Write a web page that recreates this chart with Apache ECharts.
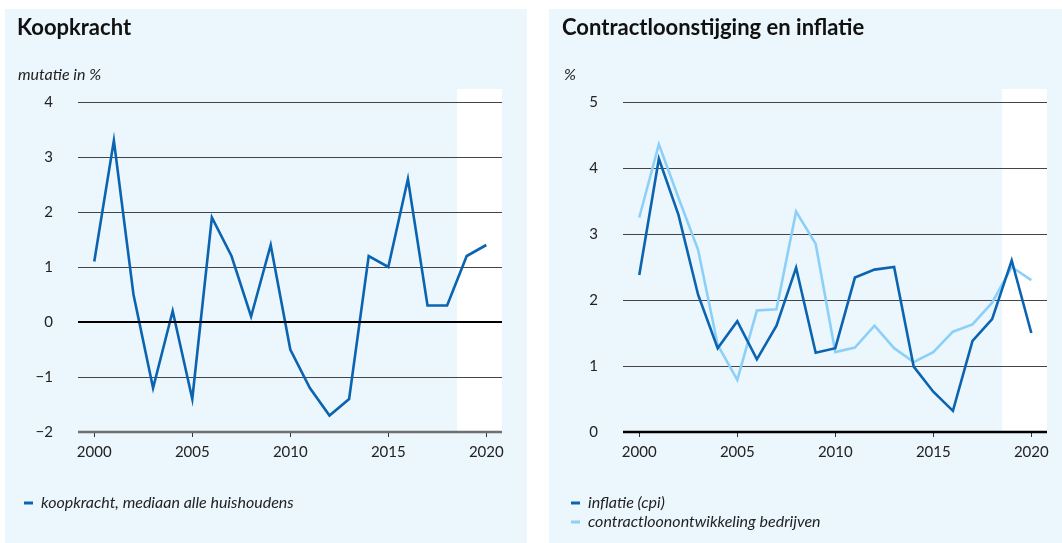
<!DOCTYPE html>
<html>
<head>
<meta charset="utf-8">
<script src="https://cdn.jsdelivr.net/npm/echarts@6/dist/echarts.min.js"></script>
<style>
  html, body { margin: 0; padding: 0; background: #fff; }
  #chart { width: 1062px; height: 543px; }
</style>
</head>
<body>
<div id="chart"></div>
<script>
// jaren
const years = [2000, 2001, 2002, 2003, 2004, 2005, 2006, 2007, 2008, 2009, 2010,
  2011, 2012, 2013, 2014, 2015, 2016, 2017, 2018, 2019, 2020];
const yearTicks = [2000, 2005, 2010, 2015, 2020];

// koopkracht, mediaan alle huishoudens (mutatie in %)
const koopkracht = [1.1, 3.3, 0.5, -1.2, 0.2, -1.4, 1.9, 1.2, 0.1, 1.4, -0.5,
  -1.2, -1.7, -1.4, 1.2, 1.0, 2.6, 0.3, 0.3, 1.2, 1.4];

// inflatie (cpi) en contractloonontwikkeling bedrijven (%)
const inflatie = [2.38, 4.14, 3.29, 2.08, 1.27, 1.68, 1.1, 1.61, 2.49, 1.2, 1.27,
  2.34, 2.46, 2.5, 0.99, 0.61, 0.32, 1.38, 1.71, 2.6, 1.5];
const contractloon = [3.25, 4.36, 3.55, 2.76, 1.32, 0.79, 1.84, 1.86, 3.34, 2.85, 1.21,
  1.28, 1.61, 1.27, 1.06, 1.21, 1.52, 1.63, 1.96, 2.5, 2.3];

const ramingVanaf = 2018.5; // wit vlak: raming

const FONT = 'Lato, "Open Sans", sans-serif';
const DARK = '#0b64b0';
const LIGHT = '#8dd0f7';
const PANEL = '#ebf6fd';

const pairs = (vals) => years.map((y, i) => [y, vals[i]]);

const myChart = echarts.init(document.getElementById('chart'));

function xAxisFor(gridIndex) {
  return {
    type: 'value',
    gridIndex: gridIndex,
    min: 1999.17,
    max: 2020.8,
    axisLine: { show: false, onZero: false },
    axisTick: {
      show: true,
      customValues: yearTicks,
      length: 5,
      lineStyle: { color: '#333', width: 1 }
    },
    axisLabel: {
      customValues: yearTicks,
      margin: 13,
      color: '#222',
      fontSize: 15,
      fontFamily: FONT,
      formatter: v => String(v)
    },
    splitLine: { show: false }
  };
}

function yAxisFor(gridIndex, min, max) {
  return {
    type: 'value',
    gridIndex: gridIndex,
    min: min,
    max: max,
    interval: 1,
    axisLine: { show: false },
    axisTick: { show: false },
    axisLabel: {
      margin: 25,
      color: '#222',
      fontSize: 15,
      fontFamily: FONT,
      formatter: v => (v < 0 ? '\u2212' + Math.abs(v) : String(v))
    },
    splitLine: { show: true, lineStyle: { color: '#444', width: 1 } }
  };
}

function lineSeries(name, xi, yi, data, color, z) {
  return {
    name: name,
    type: 'line',
    xAxisIndex: xi,
    yAxisIndex: yi,
    data: data,
    symbol: 'none',
    z: z || 3,
    lineStyle: { color: color, width: 2.6, join: 'miter' },
    itemStyle: { color: color },
    animation: false
  };
}

const italic = { fontSize: 16, fontStyle: 'italic', fontWeight: 'normal', color: '#222', fontFamily: FONT };
const legendText = Object.assign({}, italic, { padding: [0, 0, 0, 3] });

const option = {
  animation: false,
  textStyle: { fontFamily: FONT },
  title: [
    {
      text: 'Koopkracht',
      left: 12, top: 12,
      textStyle: { fontSize: 22, fontWeight: 'bold', color: '#111', fontFamily: FONT }
    },
    {
      text: 'Contractloonstijging en inflatie',
      left: 557, top: 12,
      textStyle: { fontSize: 22, fontWeight: 'bold', color: '#111', fontFamily: FONT }
    },
    { text: 'mutatie in %', left: 13, top: 62, textStyle: italic },
    { text: '%', left: 559, top: 62, textStyle: italic }
  ],
  legend: [
    {
      data: ['koopkracht, mediaan alle huishoudens'],
      orient: 'vertical',
      left: 19, top: 490,
      icon: 'rect', itemWidth: 9, itemHeight: 3, itemGap: 4,
      textStyle: legendText
    },
    {
      data: ['inflatie (cpi)', 'contractloonontwikkeling bedrijven'],
      orient: 'vertical',
      left: 566, top: 490,
      icon: 'rect', itemWidth: 9, itemHeight: 3, itemGap: 3,
      textStyle: legendText
    }
  ],
  grid: [
    { left: 78, right: 560, top: 102, height: 330 },
    { left: 623, right: 15, top: 102, height: 330 }
  ],
  xAxis: [xAxisFor(0), xAxisFor(1)],
  yAxis: [yAxisFor(0, -2, 4), yAxisFor(1, 0, 5)],
  series: [
    Object.assign(lineSeries('koopkracht, mediaan alle huishoudens', 0, 0, pairs(koopkracht), DARK), {
      markLine: {
        silent: true, symbol: 'none', label: { show: false },
        lineStyle: { color: '#000', width: 2, type: 'solid' },
        data: [{ yAxis: 0 }]
      }
    }),
    lineSeries('contractloonontwikkeling bedrijven', 1, 1, pairs(contractloon), LIGHT, 3),
    lineSeries('inflatie (cpi)', 1, 1, pairs(inflatie), DARK, 4)
  ]
};

myChart.setOption(option);

// achtergrondvlakken, witte ramingsvlakken en onderste aslijnen uit de schalen
function panelGraphics() {
  const els = [
    { type: 'rect', z: -10, shape: { x: 5, y: 9, width: 522, height: 534 }, style: { fill: PANEL }, silent: true },
    { type: 'rect', z: -10, shape: { x: 549, y: 9, width: 513, height: 534 }, style: { fill: PANEL }, silent: true }
  ];
  const specs = [
    { grid: 0, yMin: -2, yMax: 4, axisColor: '#6f6f6f' },
    { grid: 1, yMin: 0, yMax: 5, axisColor: '#000' }
  ];
  specs.forEach(s => {
    const tl = myChart.convertToPixel({ gridIndex: s.grid }, [ramingVanaf, s.yMax]);
    const br = myChart.convertToPixel({ gridIndex: s.grid }, [2020.8, s.yMin]);
    const bl = myChart.convertToPixel({ gridIndex: s.grid }, [1999.17, s.yMin]);
    els.push({
      type: 'rect', z: -5, silent: true,
      shape: { x: tl[0], y: tl[1] - 13, width: br[0] - tl[0], height: br[1] - tl[1] + 13 },
      style: { fill: '#ffffff' }
    });
    els.push({
      type: 'line', z: 10, silent: true,
      shape: { x1: bl[0], y1: bl[1], x2: br[0], y2: br[1] },
      style: { stroke: s.axisColor, lineWidth: 2.5 }
    });
  });
  return els;
}

myChart.setOption({ graphic: panelGraphics() });
</script>
</body>
</html>
